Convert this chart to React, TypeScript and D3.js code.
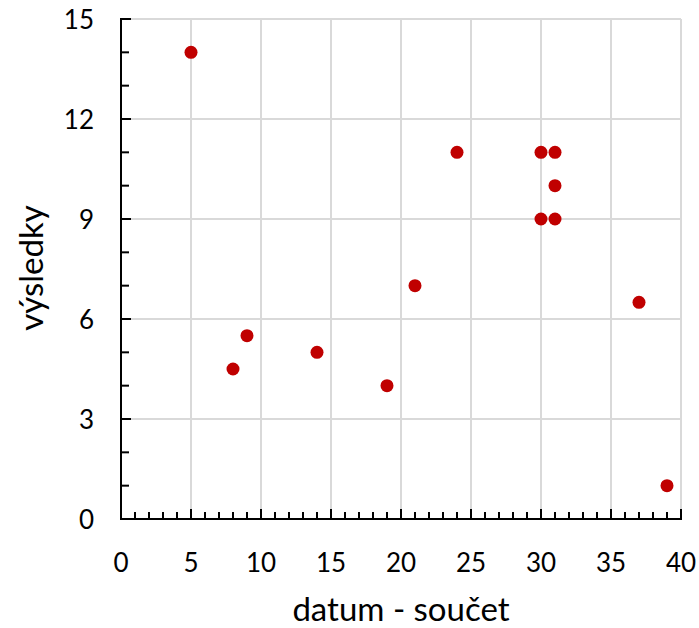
import React from "react";
import * as d3 from "d3";

const xValues = [5, 8, 9, 14, 19, 21, 24, 30, 31, 31, 30, 31, 37, 39];
const yValues = [14, 4.5, 5.5, 5, 4, 7, 11, 11, 11, 10, 9, 9, 6.5, 1];
const xTicks = [0, 5, 10, 15, 20, 25, 30, 35, 40];
const yTicks = [0, 3, 6, 9, 12, 15];
const xTitle = "datum - součet";
const yTitle = "výsledky";

export default function App() {
  const W = 699, H = 628;
  const left = 121, right = 681, top = 19, bottom = 519;
  const x = d3.scaleLinear().domain([0, 40]).range([left, right]);
  const y = d3.scaleLinear().domain([0, 15]).range([bottom, top]);
  const xMinor = d3.range(0, 41, 1);
  const yMinor = d3.range(0, 16, 1);
  const font = "Lato, 'Open Sans', sans-serif";
  return (
    <svg width={W} height={H} style={{ position: "absolute", left: 0, top: 0, background: "#fff" }}>
      {xTicks.map((t) => (
        <line key={"gx" + t} x1={x(t)} x2={x(t)} y1={top} y2={bottom} stroke="#d9d9d9" strokeWidth={2} />
      ))}
      {yTicks.map((t) => (
        <line key={"gy" + t} x1={left} x2={right} y1={y(t)} y2={y(t)} stroke="#d9d9d9" strokeWidth={2} />
      ))}
      {xMinor.map((t) => (
        <line key={"mx" + t} x1={x(t)} x2={x(t)} y1={bottom} y2={bottom - (t % 5 === 0 ? 10 : 7)} stroke="#000" strokeWidth={2} />
      ))}
      {yMinor.map((t) => (
        <line key={"my" + t} x1={left} x2={left + (t % 3 === 0 ? 10 : 8)} y1={y(t)} y2={y(t)} stroke="#000" strokeWidth={2} />
      ))}
      <line x1={left} x2={left} y1={top - 1} y2={bottom + 1} stroke="#000" strokeWidth={2} />
      <line x1={left - 1} x2={right + 1} y1={bottom} y2={bottom} stroke="#000" strokeWidth={2} />
      {xValues.map((v, i) => (
        <circle key={"p" + i} cx={x(v)} cy={y(yValues[i])} r={6.5} fill="#c00000" />
      ))}
      {xTicks.map((t) => (
        <text key={"tx" + t} x={x(t)} y={572} textAnchor="middle" fontFamily={font} fontSize={26} fill="#000">{t}</text>
      ))}
      {yTicks.map((t) => (
        <text key={"ty" + t} x={94} y={y(t) + 9.5} textAnchor="end" fontFamily={font} fontSize={26} fill="#000">{t}</text>
      ))}
      <text x={(left + right) / 2 - 0} y={621} textAnchor="middle" fontFamily={font} fontSize={33} fill="#000">{xTitle}</text>
      <text transform={`translate(43, ${268}) rotate(-90)`} textAnchor="middle" fontFamily={font} fontSize={33} fill="#000">{yTitle}</text>
    </svg>
  );
}
